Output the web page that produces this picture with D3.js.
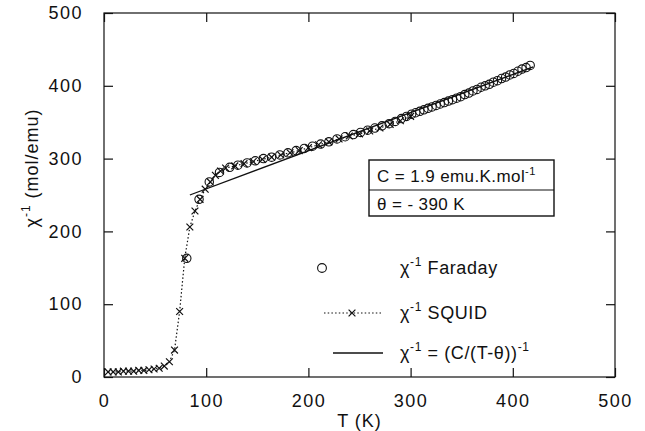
<!DOCTYPE html>
<html>
<head>
<meta charset="utf-8">
<script src="https://cdn.jsdelivr.net/npm/d3@7"></script>
<style>
  body { margin: 0; background: #fff; }
  text { font-family: "Liberation Sans", Arial, sans-serif; fill: #111; }
</style>
</head>
<body>
<script>
// SQUID data (crosses, dotted line)
const squidT = [4, 9, 14, 19, 24, 29, 34, 39, 44, 49, 54, 59, 64, 69, 74, 79, 84, 89, 94, 99, 104, 109, 114, 119,
  128, 137, 146, 155, 164, 173, 182, 191, 200, 210, 220, 230, 240, 250, 260, 270, 280, 290, 300];
const squidChi = [7, 7, 7, 8, 8, 8, 9, 9, 10, 11, 12, 15, 21, 37, 90, 163, 206, 228, 244, 258, 268, 277, 283, 287,
  290, 293, 296, 299, 302, 305, 308, 311, 315, 319, 323, 327, 331, 334, 338, 342, 347, 352, 358];

// Faraday data (open circles)
const faradayT = [81, 93, 103, 113, 123, 131, 140, 148, 156, 164, 172, 180, 188, 196, 204, 212, 220, 228, 236, 244,
  251, 258, 265, 272, 279, 285, 291, 296, 301, 305, 309, 313, 317, 321, 325, 329, 333, 337, 341, 345, 349, 353,
  357, 361, 365, 369, 373, 377, 381, 385, 389, 393, 397, 401, 405, 409, 413, 417];
const faradayChi = [163, 244, 268, 281, 288, 291, 294, 297, 300, 302, 305, 308, 311, 314, 317, 320, 323, 327, 330, 333,
  336, 339, 342, 345, 348, 351, 355, 358, 361, 363, 365, 367, 369, 371, 373, 375, 377, 379, 381, 383, 385, 388,
  390, 393, 395, 398, 400, 402, 405, 407, 410, 412, 415, 417, 420, 423, 425, 428];

// Curie-Weiss fit, end points
const fitT = [84, 420];
const fitChi = [250, 426];

const xTicks = [0, 100, 200, 300, 400, 500];
const yTicks = [0, 100, 200, 300, 400, 500];

const width = 645, height = 431;
const margin = { top: 13, right: 30, bottom: 54, left: 104 };
const chartWidth = width - margin.left - margin.right;
const chartHeight = height - margin.top - margin.bottom;
const ink = "#111";
const fontSize = 18;

const svg = d3.select("body").append("svg")
  .attr("width", width)
  .attr("height", height);

const chartGroup = svg.append("g")
  .attr("transform", `translate(${margin.left}, ${margin.top})`);

const xScale = d3.scaleLinear().domain([0, 500]).range([0, chartWidth]);
const yScale = d3.scaleLinear().domain([0, 500]).range([chartHeight, 0]);

// frame
chartGroup.append("rect")
  .attr("width", chartWidth).attr("height", chartHeight)
  .attr("fill", "none").attr("stroke", ink).attr("stroke-width", 1.2);

// axes with inward ticks
const bottomAxis = d3.axisBottom(xScale).tickValues(xTicks).tickSizeInner(-9).tickSizeOuter(0).tickPadding(17);
const leftAxis = d3.axisLeft(yScale).tickValues(yTicks).tickSizeInner(-9).tickSizeOuter(0).tickPadding(21);
const topAxis = d3.axisTop(xScale).tickValues(xTicks).tickSizeInner(-9).tickSizeOuter(0).tickFormat("");
const rightAxis = d3.axisRight(yScale).tickValues(yTicks).tickSizeInner(-9).tickSizeOuter(0).tickFormat("");

chartGroup.append("g").attr("transform", `translate(0, ${chartHeight})`).call(bottomAxis);
chartGroup.append("g").call(leftAxis);
chartGroup.append("g").call(topAxis);
chartGroup.append("g").attr("transform", `translate(${chartWidth}, 0)`).call(rightAxis);

chartGroup.selectAll(".domain").remove();
chartGroup.selectAll(".tick line").attr("stroke", ink).attr("stroke-width", 1.2);
chartGroup.selectAll(".tick text").attr("font-size", fontSize).attr("letter-spacing", 1.5).attr("fill", ink);

// axis titles
chartGroup.append("text")
  .attr("x", chartWidth / 2).attr("y", chartHeight + 50)
  .attr("text-anchor", "middle").attr("font-size", fontSize).attr("letter-spacing", 1)
  .text("T (K)");

const yTitle = chartGroup.append("text")
  .attr("transform", `translate(${-66}, ${155})rotate(-90)`)
  .attr("text-anchor", "middle").attr("font-size", fontSize).attr("letter-spacing", 1);
yTitle.append("tspan").text("χ");
yTitle.append("tspan").attr("dy", -8).attr("font-size", 12).text("-1");
yTitle.append("tspan").attr("dy", 8).text(" (mol/emu)");

// fit line
const fitData = fitT.map((t, i) => [t, fitChi[i]]);
const line = d3.line().x(d => xScale(d[0])).y(d => yScale(d[1]));
chartGroup.append("path")
  .attr("d", line(fitData))
  .attr("fill", "none").attr("stroke", ink).attr("stroke-width", 1.3);

// SQUID dotted line + crosses
const squidData = squidT.map((t, i) => [t, squidChi[i]]);
chartGroup.append("path")
  .attr("d", line(squidData))
  .attr("fill", "none").attr("stroke", ink).attr("stroke-width", 1.2)
  .attr("stroke-dasharray", "1.5,2.2");

const cross = d3.symbol().type(d3.symbolX).size(32);
chartGroup.selectAll(".squid")
  .data(squidData)
  .enter()
  .append("path")
  .attr("class", "squid")
  .attr("d", cross)
  .attr("transform", d => `translate(${xScale(d[0])}, ${yScale(d[1])})`)
  .attr("fill", "none").attr("stroke", ink).attr("stroke-width", 1.2);

// Faraday circles
const faradayData = faradayT.map((t, i) => [t, faradayChi[i]]);
chartGroup.selectAll(".faraday")
  .data(faradayData)
  .enter()
  .append("circle")
  .attr("class", "faraday")
  .attr("cx", d => xScale(d[0]))
  .attr("cy", d => yScale(d[1]))
  .attr("r", 4.2)
  .attr("fill", "none").attr("stroke", ink).attr("stroke-width", 1.1);

// parameters box
const box = svg.append("g").attr("transform", "translate(369, 160)");
box.append("rect").attr("width", 185).attr("height", 56)
  .attr("fill", "#fff").attr("stroke", ink).attr("stroke-width", 1.4);
box.append("line").attr("x1", 0).attr("x2", 185).attr("y1", 30).attr("y2", 30)
  .attr("stroke", ink).attr("stroke-width", 1.2);
const cText = box.append("text").attr("x", 8).attr("y", 22).attr("font-size", 17).attr("letter-spacing", 0.4);
cText.append("tspan").text("C = 1.9 emu.K.mol");
cText.append("tspan").attr("dy", -7).attr("font-size", 11).text("-1");
box.append("text").attr("x", 8).attr("y", 50).attr("font-size", 17).attr("letter-spacing", 0.4).text("θ = - 390 K");

// legend
const legend = svg.append("g");
const rows = [
  { y: 268, label: "Faraday" },
  { y: 313, label: "SQUID" },
  { y: 353, label: "fit" }
];
legend.append("circle").attr("cx", 322).attr("cy", rows[0].y).attr("r", 4.4)
  .attr("fill", "none").attr("stroke", ink).attr("stroke-width", 1.1);
legend.append("line").attr("x1", 324).attr("x2", 383).attr("y1", rows[1].y).attr("y2", rows[1].y)
  .attr("stroke", ink).attr("stroke-width", 1.2).attr("stroke-dasharray", "1.5,2.2");
legend.append("path").attr("d", cross).attr("transform", `translate(352, ${rows[1].y})`)
  .attr("fill", "none").attr("stroke", ink).attr("stroke-width", 1.2);
legend.append("line").attr("x1", 333).attr("x2", 383).attr("y1", rows[2].y).attr("y2", rows[2].y)
  .attr("stroke", ink).attr("stroke-width", 1.3);

function chiLabel(y) {
  const t = legend.append("text").attr("x", 400).attr("y", y + 6).attr("font-size", fontSize).attr("letter-spacing", 0.6);
  t.append("tspan").text("χ");
  t.append("tspan").attr("dy", -8).attr("font-size", 12).text("-1");
  return t;
}
chiLabel(rows[0].y).append("tspan").attr("dy", 8).text("  Faraday");
chiLabel(rows[1].y).append("tspan").attr("dy", 8).text("  SQUID");
const fitLabel = chiLabel(rows[2].y);
fitLabel.append("tspan").attr("dy", 8).text(" = (C/(T-θ))");
fitLabel.append("tspan").attr("dy", -8).attr("font-size", 12).text("-1");
</script>
</body>
</html>
